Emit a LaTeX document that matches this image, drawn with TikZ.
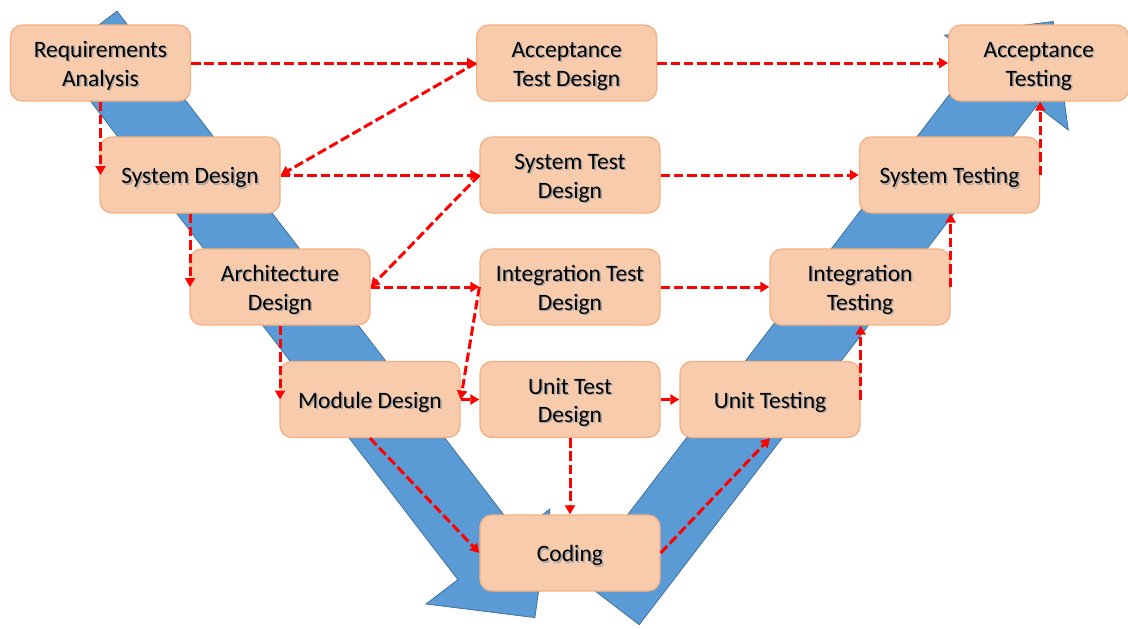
\documentclass[tikz,border=0pt]{standalone}
\usepackage{fontspec}
\setmainfont{Carlito}
\usetikzlibrary{arrows.meta}

\definecolor{boxfill}{HTML}{F8CBAD}
\definecolor{boxline}{HTML}{F4B183}
\definecolor{bandfill}{HTML}{5B9BD5}
\definecolor{bandline}{HTML}{41719C}
\definecolor{linkred}{HTML}{FF0000}

% label text with a soft grey drop shadow, centred on the node
\newcommand\shadowed[1]{%
  \smash{\raisebox{-9.3pt}{%
    \makebox[0pt]{\raisebox{-1.4pt}{\kern3pt\textcolor{black!35}{\begin{tabular}{@{}c@{}}#1\end{tabular}}}}%
    \makebox[0pt]{\begin{tabular}{@{}c@{}}#1\end{tabular}}}}}

\tikzset{
  stage/.style={draw=boxline, fill=boxfill, line width=1.3pt,
    rounded corners=12pt, minimum width=180pt, minimum height=76pt,
    inner sep=0pt, font=\fontsize{23.5}{28.5}\selectfont},
  link/.style={draw=linkred, line width=3pt, dash pattern=on 9.5pt off 3.8pt,
    -{Triangle[length=9pt,width=10pt]}},
  band/.style={fill=bandfill, draw=bandline, line width=0.8pt, line join=miter}
}

\begin{document}
\begin{tikzpicture}[x=1pt,y=-1pt]
\useasboundingbox (0,0) rectangle (1128,629);

% descending band (specification side)
\path[band] (117.0,11.1) -- (518.1,533.4) -- (549.9,509.0) -- (534.9,617.6)
  -- (426.1,604.0) -- (457.9,579.6) -- (56.8,57.3) -- cycle;
% ascending band (testing side)
\path[band] (639.2,624.7) -- (1036.6,105.7) -- (1068.3,130.0) -- (1053.2,21.5)
  -- (944.5,35.2) -- (976.2,59.5) -- (578.8,578.5) -- cycle;

% stages
\node[stage] (req) at (100.5,63)  {\shadowed{Requirements\\Analysis}};
\node[stage] (atd) at (566.7,63)  {\shadowed{Acceptance\\Test Design}};
\node[stage] (at)  at (1038.8,63) {\shadowed{Acceptance\\Testing}};

\node[stage] (sd)  at (190,175)   {\shadowed{System Design}};
\node[stage] (std) at (570,175)   {\shadowed{System Test\\Design}};
\node[stage] (st)  at (949.5,175) {\shadowed{System Testing}};

\node[stage] (ad)  at (280,287)   {\shadowed{Architecture\\Design}};
\node[stage] (itd) at (570,287)   {\shadowed{Integration Test\\Design}};
\node[stage] (it)  at (860,287)   {\shadowed{Integration\\Testing}};

\node[stage] (md)  at (370,399.5) {\shadowed{Module Design}};
\node[stage] (utd) at (570,399.5) {\shadowed{Unit Test\\Design}};
\node[stage] (ut)  at (770,399.5) {\shadowed{Unit Testing}};

\node[stage] (cod) at (570,553)   {\shadowed{Coding}};

% links
\draw[link] (req.east) -- (atd.west);
\draw[link] (atd.east) -- (at.west);
\draw[link] (req.south) -- (req.south |- sd.west);
\draw[link] (atd.west) -- (sd.east);
\draw[link] (sd.east) -- (std.west);
\draw[link] (std.west) -- (ad.east);
\draw[link] (std.east) -- (st.west);
\draw[link] (sd.south) -- (sd.south |- ad.west);
\draw[link] (ad.east) -- (itd.west);
\draw[link] (itd.west) -- (md.east);
\draw[link] (itd.east) -- (it.west);
\draw[link] (ad.south) -- (ad.south |- md.west);
\draw[link] (md.east) -- (utd.west);
\draw[link] (utd.east) -- (ut.west);
\draw[link] (md.south) -- (cod.west);
\draw[link] (utd.south) -- (cod.north);
\draw[link] (cod.east) -- (ut.south);
\draw[link] (ut.east) -- (ut.east |- it.south);
\draw[link] (it.east) -- (it.east |- st.south);
\draw[link] (st.east) -- (st.east |- at.south);
\end{tikzpicture}
\end{document}
